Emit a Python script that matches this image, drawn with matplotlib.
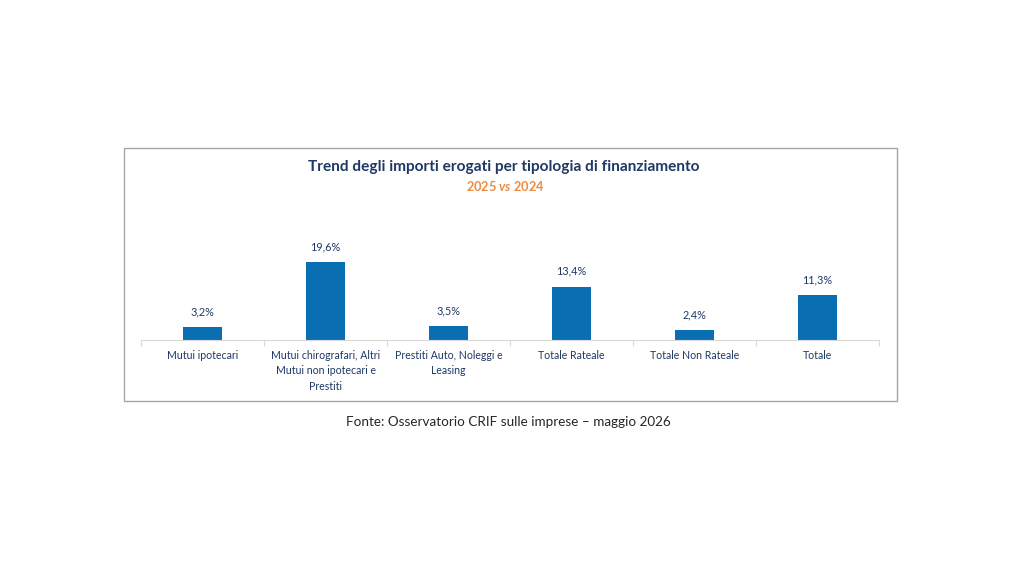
import numpy as np
import matplotlib
matplotlib.use('agg')
from matplotlib import pyplot as plt
from matplotlib.patches import Rectangle

categories = [
    'Mutui ipotecari',
    'Mutui chirografari, Altri\nMutui non ipotecari e\nPrestiti',
    'Prestiti Auto, Noleggi e\nLeasing',
    'Totale Rateale',
    'Totale Non Rateale',
    'Totale',
]
values = [3.2, 19.6, 3.5, 13.4, 2.4, 11.3]
value_labels = ['3,2%', '19,6%', '3,5%', '13,4%', '2,4%', '11,3%']

NAVY = '#1F3864'
BAR = '#0A6FB2'
ORANGE = '#F08A3C'

plt.rcParams['font.family'] = ['Lato', 'DejaVu Sans']
plt.rcParams['mathtext.fontset'] = 'custom'
plt.rcParams['mathtext.bfit'] = 'Lato:italic:bold'

W, H = 1024, 576
fig = plt.figure(figsize=(W / 100, H / 100), dpi=100)

# frame around the chart
fig.patches.append(Rectangle((124 / W, 1 - 401 / H), (897 - 124) / W, (401 - 148) / H,
                             transform=fig.transFigure, fill=False, ec='#A6A6A6', lw=1.0))

ax = fig.add_axes([141 / W, 1 - 340 / H, (879 - 141) / W, 100 / H])
x = np.arange(len(categories))
ax.bar(x, values, width=0.31, color=BAR, zorder=2)
ax.set_xlim(-0.5, len(categories) - 0.5)
ax.set_ylim(0, 25.1)

for xi, v, lab in zip(x, values, value_labels):
    ax.annotate(lab, (xi, v), xytext=(0, 7), textcoords='offset points',
                ha='center', va='bottom', fontsize=7.8, color=NAVY)

for s in ['top', 'right', 'left']:
    ax.spines[s].set_visible(False)
ax.spines['bottom'].set_color('#D9D9D9')
ax.set_yticks([])
ax.set_xticks(np.arange(-0.5, len(categories) + 0.5, 1.0), minor=False)
ax.set_xticklabels([])
ax.tick_params(axis='x', which='major', length=4, color='#D9D9D9')
ax.set_xticks(x, minor=True)
ax.set_xticklabels(categories, minor=True, fontsize=7.6, color=NAVY, linespacing=1.45, va='top')
ax.tick_params(axis='x', which='minor', length=0, pad=7.5)

fig.text(504 / W, 1 - 167 / H, 'Trend degli importi erogati per tipologia di finanziamento',
         ha='center', va='center', fontsize=11.1, fontweight='bold', color=NAVY)
fig.text(505 / W, 1 - 186 / H, r'2025 $\mathbfit{vs}$ 2024', ha='center', va='center',
         fontsize=9.2, fontweight='bold', color=ORANGE)
fig.text(508 / W, 1 - 422 / H, 'Fonte: Osservatorio CRIF sulle imprese \u2013 maggio 2026',
         ha='center', va='center', fontsize=9.7, color='#262626')

plt.savefig('out.png', dpi=100, facecolor='white')
